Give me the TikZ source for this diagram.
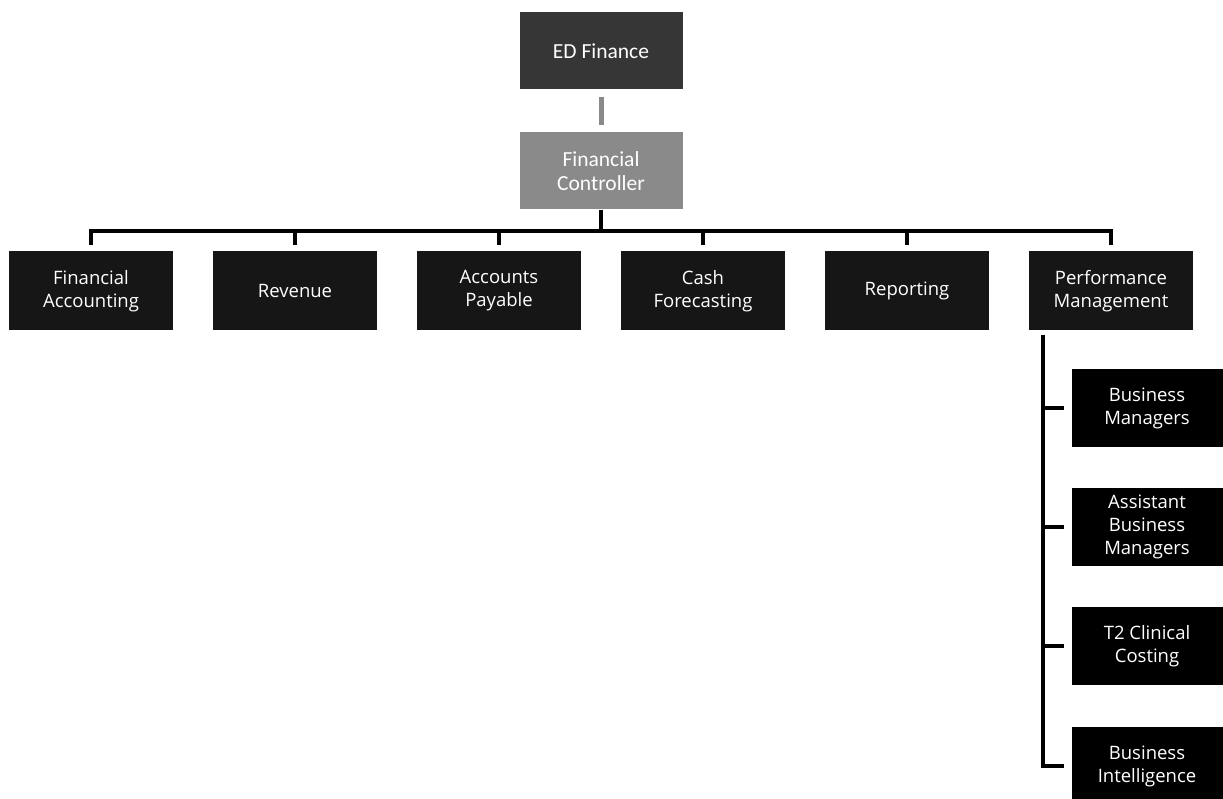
\documentclass[tikz,border=0pt]{standalone}
\usepackage{fontspec}
\setmainfont{Open Sans}
\newfontfamily\calfont{Carlito}

\definecolor{topgray}{HTML}{363636}
\definecolor{midgray}{HTML}{8A8A8A}
\definecolor{rowblack}{HTML}{161616}

\tikzset{
    unit/.style={draw=none, text=white, align=center, inner sep=0pt,
        font=\fontsize{18.5}{23}\selectfont},
    headbox/.style={unit, fill=topgray, minimum width=163pt, minimum height=77pt,
        font=\calfont\fontsize{21.5}{24}\selectfont},
    ctrlbox/.style={headbox, fill=midgray},
    teambox/.style={unit, fill=rowblack, minimum width=164pt, minimum height=79pt},
    subbox/.style={unit, fill=black, minimum width=151pt, minimum height=78pt},
    bar/.style={line width=4pt, black},
}

\begin{document}
\begin{tikzpicture}[x=1pt, y=-1pt]
    \useasboundingbox (0,0) rectangle (1223,799);

    \node[headbox] (ed) at (601, 51) {ED Finance};
    \node[ctrlbox] (fc) at (601, 171) {Financial\\Controller};

    \node[teambox] (fa)  at (91, 291)   {Financial\\Accounting};
    \node[teambox] (rev) at (295, 291)  {Revenue};
    \node[teambox] (ap)  at (499, 291)  {Accounts\\Payable};
    \node[teambox] (cf)  at (703, 291)  {Cash\\Forecasting};
    \node[teambox] (rep) at (907, 291)  {Reporting};
    \node[teambox] (pm)  at (1111, 291) {Performance\\Management};

    \node[subbox] (bm) at (1147, 408) {Business\\Managers};
    \node[subbox] (abm) at (1147, 527) {Assistant\\Business\\Managers};
    \node[subbox] (t2) at (1147, 646) {T2 Clinical\\Costing};
    \node[subbox] (bi) at (1147, 766) {Business\\Intelligence};

    \coordinate (bus) at (601, 231);
    \coordinate (spine) at (1043, 335);

    % ED Finance down to the controller
    \draw[line width=5pt, midgray, shorten <=7pt, shorten >=7pt] (ed.south) -- (fc.north);

    % controller to the six teams
    \draw[bar] (fc.south) -- (bus);
    \foreach \n in {fa, rev, ap, cf, rep, pm}
        \draw[bar, shorten >=6pt] (bus) -| (\n.north);

    % performance management teams
    \draw[bar, shorten >=7pt] (spine) |- (bi.west);
    \foreach \n in {bm, abm, t2}
        \draw[bar, shorten >=7pt] (spine |- \n.west) -- (\n.west);
\end{tikzpicture}
\end{document}
